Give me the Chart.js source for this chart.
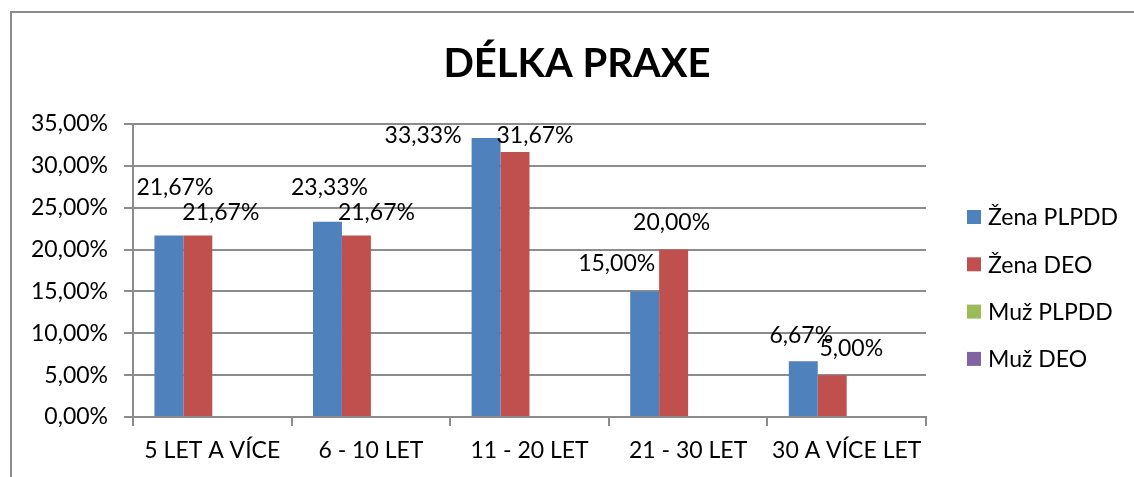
<!DOCTYPE html>
<html><head><meta charset="utf-8">
<script src="https://cdn.jsdelivr.net/npm/chart.js@4/dist/chart.umd.min.js"></script>
<style>
html,body{margin:0;padding:0;background:#fff;}
#wrap{position:relative;width:1134px;height:477px;overflow:hidden;}
#frame{position:absolute;left:10px;top:11px;right:-5px;bottom:-5px;border-left:2px solid #8c8c8c;border-top:2px solid #8c8c8c;}
canvas{position:absolute;left:0;top:0;}
</style></head><body>
<div id="wrap"><div id="frame"></div><canvas id="c" width="1134" height="477"></canvas></div>
<script>
const chartTitle = 'DÉLKA PRAXE';
const categories = ['5 LET A VÍCE', '6 - 10 LET', '11 - 20 LET', '21 - 30 LET', '30 A VÍCE LET'];
const seriesNames = ['Žena PLPDD', 'Žena DEO', 'Muž PLPDD', 'Muž DEO'];
const zenaPLPDD = [21.67, 23.33, 33.33, 15.00, 6.67];
const zenaDEO = [21.67, 21.67, 31.67, 20.00, 5.00];
const muzPLPDD = [0, 0, 0, 0, 0];
const muzDEO = [0, 0, 0, 0, 0];
const yTicks = [0, 5, 10, 15, 20, 25, 30, 35];

const FONT = 'Lato';
const FS = 23;
const GRID = '#8c8c8c';
const fmt = v => v.toFixed(2).replace('.', ',') + '%';

// label nudges (pixels, relative to bar top) reproducing the hand-placed labels
const labelNudges = {
  0: [[6,-48],[2,-34],[-63,-2],[-28,-28],[-2,-26]],
  1: [[23,-23],[20,-23],[20,-16],[-2,-27],[19,-27]]
};

const decor = {
  id: 'decor',
  afterDatasetsDraw(chart) {
    const ctx = chart.ctx;
    ctx.save();
    ctx.fillStyle = '#000';
    ctx.font = FS + 'px ' + FONT;
    ctx.textAlign = 'center';
    ctx.textBaseline = 'middle';
    Object.keys(labelNudges).forEach(di => {
      const meta = chart.getDatasetMeta(+di);
      const vals = chart.data.datasets[di].data;
      meta.data.forEach((bar, j) => {
        const [dx, dy] = labelNudges[di][j];
        ctx.fillText(fmt(vals[j]), bar.x + dx, bar.y + dy);
      });
    });
    ctx.restore();
  },
  afterDraw(chart) {
    const ctx = chart.ctx;
    const ca = chart.chartArea;
    ctx.save();
    // title
    ctx.fillStyle = '#000';
    ctx.font = 'bold 40px ' + FONT;
    ctx.textAlign = 'center';
    ctx.textBaseline = 'alphabetic';
    ctx.fillText(chartTitle, 577, 77);
    // legend
    ctx.font = FS + 'px ' + FONT;
    ctx.textAlign = 'left';
    ctx.textBaseline = 'middle';
    chart.data.datasets.forEach((ds, i) => {
      const y = 217 + i * 47.3;
      const x = ca.right + 41;
      ctx.fillStyle = ds.backgroundColor;
      ctx.fillRect(x, y - 7, 14, 14);
      ctx.fillStyle = '#000';
      ctx.fillText(ds.label, x + 21, y + 1);
    });
    ctx.restore();
  }
};

new Chart(document.getElementById('c'), {
  type: 'bar',
  data: {
    labels: categories,
    datasets: [
      { label: seriesNames[0], data: zenaPLPDD, backgroundColor: '#4F81BD' },
      { label: seriesNames[1], data: zenaDEO, backgroundColor: '#C0504D' },
      { label: seriesNames[2], data: muzPLPDD, backgroundColor: '#9BBB59' },
      { label: seriesNames[3], data: muzDEO, backgroundColor: '#8064A2' }
    ]
  },
  options: {
    responsive: false,
    animation: false,
    devicePixelRatio: 1,
    categoryPercentage: 0.73,
    barPercentage: 1,
    layout: { padding: { top: 124, right: 208, left: 0, bottom: 0 } },
    plugins: { legend: { display: false }, title: { display: false }, tooltip: { enabled: false } },
    scales: {
      x: {
        grid: { display: true, drawOnChartArea: false, drawTicks: true, tickLength: 9, color: GRID, lineWidth: 2, offset: true },
        border: { display: true, color: GRID, width: 2 },
        ticks: { color: '#000', font: { family: FONT, size: FS }, padding: 11, maxRotation: 0, autoSkip: false },
        afterFit(s) { s.height = 60; }
      },
      y: {
        min: 0, max: 35,
        afterBuildTicks(s) { s.ticks = yTicks.map(v => ({ value: v })); },
        grid: { color: GRID, lineWidth: 2, tickLength: 9, drawTicks: true },
        border: { display: true, color: GRID, width: 2 },
        ticks: { color: '#000', font: { family: FONT, size: FS }, padding: 16, callback: v => fmt(v) },
        afterFit(s) { s.width = 133; }
      }
    }
  },
  plugins: [decor]
});
</script>
</body></html>
